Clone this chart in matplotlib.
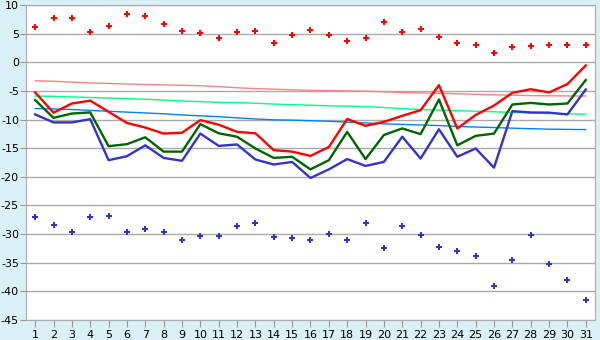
import matplotlib
matplotlib.use("Agg")
import matplotlib.pyplot as plt

plt.rcParams["axes.unicode_minus"] = False

days = list(range(1, 32))

# daily extremes (points)
abs_max = [6.1, 7.7, 7.7, 5.2, 6.3, 8.5, 8.1, 6.6, 5.4, 5.05, 4.2, 5.2, 5.4, 3.3, 4.7, 5.6,
           4.7, 3.8, 4.2, 7.0, 5.2, 5.75, 4.35, 3.3, 2.95, 1.55, 2.6, 2.8, 2.95, 2.95, 3.1]
abs_min = [-26.95, -28.35, -29.6, -26.95, -26.8, -29.6, -29.05, -29.6, -31.1, -30.3, -30.3,
           -28.5, -28.0, -30.45, -30.6, -30.95, -29.9, -30.95, -28.0, -32.4, -28.5, -30.1,
           -32.2, -32.9, -33.8, -39.0, -34.6, -30.1, -35.2, -38.0, -41.45]

# observed daily values
t_max = [-5.27, -8.8, -7.2, -6.7, -8.65, -10.6, -11.4, -12.45, -12.3, -10.1, -10.9, -12.15,
         -12.4, -15.35, -15.6, -16.35, -14.8, -9.9, -11.1, -10.4, -9.35, -8.36, -4.0, -11.55,
         -9.2, -7.55, -5.33, -4.7, -5.27, -3.8, -0.55]
t_mean = [-6.6, -9.7, -8.95, -8.75, -14.65, -14.3, -13.1, -15.6, -15.6, -10.8, -12.4, -13.0,
          -15.05, -16.7, -16.5, -18.7, -17.1, -12.15, -16.9, -12.7, -11.55, -12.55, -6.5,
          -14.5, -12.85, -12.45, -7.37, -7.1, -7.37, -7.2, -3.1]
t_min = [-9.1, -10.5, -10.5, -9.93, -17.1, -16.4, -14.5, -16.7, -17.2, -12.45, -14.6, -14.35,
         -16.98, -17.85, -17.4, -20.2, -18.7, -16.9, -18.1, -17.4, -13.0, -16.8, -11.7, -16.5,
         -15.05, -18.4, -8.53, -8.76, -8.8, -9.1, -4.75]

# climate normals
norm_max = [-3.23, -3.32, -3.47, -3.6, -3.7, -3.8, -3.88, -3.95, -4.02, -4.1, -4.25, -4.45,
            -4.6, -4.7, -4.8, -4.9, -4.95, -5.0, -5.05, -5.15, -5.28, -5.35, -5.42, -5.5,
            -5.6, -5.68, -5.75, -5.82, -5.85, -5.88, -5.9]
norm_mean = [-5.9, -5.95, -6.05, -6.15, -6.25, -6.35, -6.45, -6.6, -6.75, -6.88, -7.0, -7.05,
             -7.15, -7.3, -7.4, -7.5, -7.6, -7.66, -7.75, -7.9, -8.1, -8.25, -8.35, -8.45,
             -8.55, -8.65, -8.75, -8.85, -8.95, -9.0, -9.06]
norm_min = [-8.07, -8.15, -8.25, -8.4, -8.55, -8.7, -8.85, -9.0, -9.2, -9.35, -9.5, -9.7,
            -9.9, -10.05, -10.1, -10.2, -10.3, -10.45, -10.6, -10.75, -10.85, -10.95, -11.05,
            -11.2, -11.3, -11.4, -11.5, -11.6, -11.68, -11.72, -11.75]

fig = plt.figure(figsize=(6, 3.4), dpi=100, facecolor="#d9f0f7")
ax = fig.add_axes([0.0433, 0.0588, 0.9483, 0.9265])
ax.set_facecolor("white")

ax.plot(days, norm_max, color="#ff8080", lw=1.0)
ax.plot(days, norm_mean, color="#00ff80", lw=1.0)
ax.plot(days, norm_min, color="#0080ff", lw=1.0)

ax.plot(days, t_min, color="#3333cc", lw=1.7)
ax.plot(days, t_mean, color="#006400", lw=1.7)
ax.plot(days, t_max, color="#ff0000", lw=1.7)

ax.plot(days, abs_max, ls="none", marker="P", ms=4.5, color="#ff0000", mew=0)
ax.plot(days, abs_min, ls="none", marker="P", ms=4.5, color="#3333cc", mew=0)

ax.set_xlim(0.5, 31.5)
ax.set_ylim(-45, 10)
ax.set_xticks(days)
ax.set_yticks(range(-45, 11, 5))
ax.yaxis.grid(True, color="#aaaaaa", lw=1)
ax.set_axisbelow(True)
for s in ax.spines.values():
    s.set_color("#aaaaaa")
ax.tick_params(axis="both", colors="#999999", labelcolor="black", labelsize=8, length=4)
ax.tick_params(axis="x", length=5, pad=2)
ax.tick_params(axis="y", pad=1)

fig.savefig("out.png", dpi=100, facecolor=fig.get_facecolor())
